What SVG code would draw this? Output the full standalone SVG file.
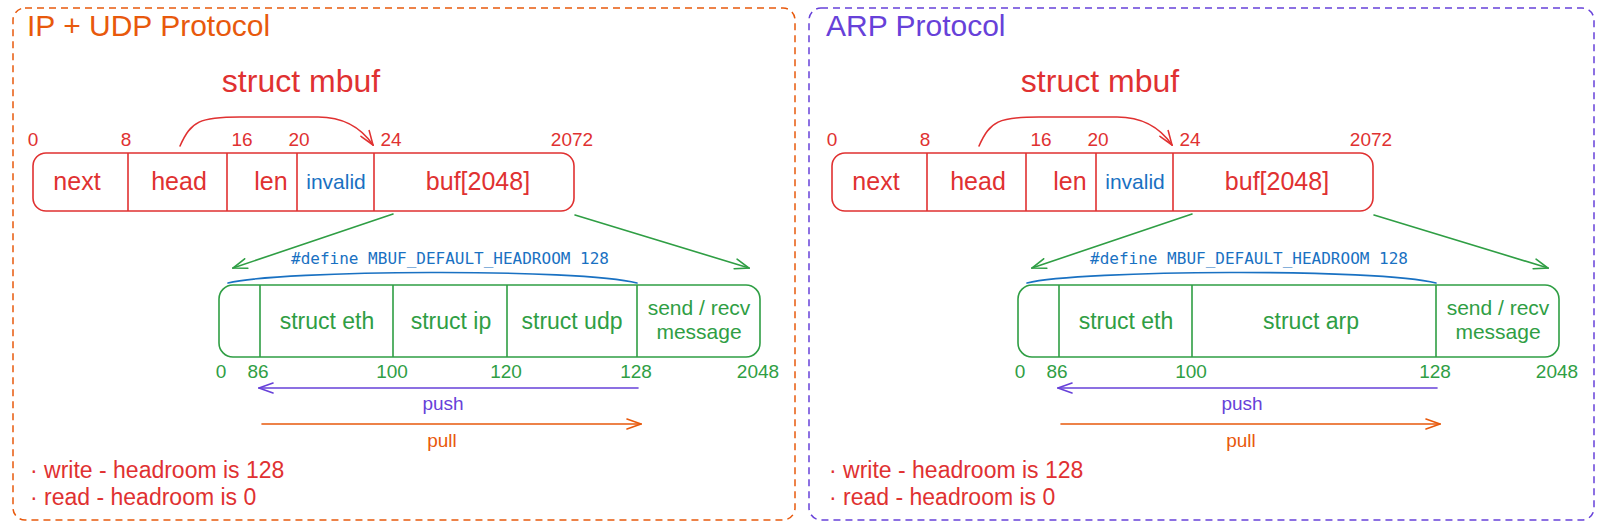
<svg xmlns="http://www.w3.org/2000/svg" width="1604" height="531" viewBox="0 0 1604 531">
<style>
  text { font-family: "Liberation Sans", Arial, sans-serif; }
  .frame { fill: none; stroke-width: 1.5; stroke-dasharray: 7 5; }
  .red { fill: #e03131; }
  .green { fill: #2f9e44; }
  .blue { fill: #1971c2; }
  .orange { fill: #e8590c; }
  .violet { fill: #6741d9; }
  .rbox { fill: none; stroke: #e03131; stroke-width: 1.6; }
  .gbox { fill: none; stroke: #2f9e44; stroke-width: 1.6; }
  .title { font-size: 30px; }
  .struct { font-size: 32px; text-anchor: middle; }
  .num { font-size: 19px; text-anchor: middle; }
  .field { font-size: 25px; text-anchor: middle; }
  .inv { font-size: 21px; text-anchor: middle; }
  .seg { font-size: 23px; text-anchor: middle; }
  .seg2 { font-size: 21px; text-anchor: middle; }
  .def { font-family: "DejaVu Sans Mono", "Liberation Mono", monospace; font-size: 16px; text-anchor: middle; }
  .op { font-size: 19px; text-anchor: middle; }
  .note { font-size: 23px; }
  .conn { fill: none; stroke-width: 1.6; stroke-linecap: round; }
</style>
<defs>
  <marker id="ah-red" viewBox="0 0 16 12" refX="15" refY="6" markerWidth="16" markerHeight="12" markerUnits="userSpaceOnUse" orient="auto">
    <path d="M1,1 L15,6 L1,11" fill="none" stroke="#e03131" stroke-width="1.6" stroke-linecap="round"/>
  </marker>
  <marker id="ah-green" viewBox="0 0 16 12" refX="15" refY="6" markerWidth="16" markerHeight="12" markerUnits="userSpaceOnUse" orient="auto">
    <path d="M1,1 L15,6 L1,11" fill="none" stroke="#2f9e44" stroke-width="1.6" stroke-linecap="round"/>
  </marker>
  <marker id="ah-violet" viewBox="0 0 16 12" refX="15" refY="6" markerWidth="16" markerHeight="12" markerUnits="userSpaceOnUse" orient="auto">
    <path d="M1,1 L15,6 L1,11" fill="none" stroke="#6741d9" stroke-width="1.6" stroke-linecap="round"/>
  </marker>
  <marker id="ah-orange" viewBox="0 0 16 12" refX="15" refY="6" markerWidth="16" markerHeight="12" markerUnits="userSpaceOnUse" orient="auto">
    <path d="M1,1 L15,6 L1,11" fill="none" stroke="#e8590c" stroke-width="1.6" stroke-linecap="round"/>
  </marker>
</defs>
<rect width="1604" height="531" fill="#ffffff"/>

<!-- ===== Left panel: IP + UDP ===== -->
<g id="frame-ipudp">
  <rect class="frame" x="13" y="8" width="782" height="512" rx="12" stroke="#e8590c"/>
  <text class="title orange" x="27" y="36">IP + UDP Protocol</text>
</g>
<g id="mbuf-ipudp">
  <text class="struct red" x="301" y="92">struct mbuf</text>
  <rect class="rbox" x="33" y="153" width="541" height="58" rx="13"/>
  <path class="rbox" d="M128,153 V211 M227,153 V211 M297,153 V211 M374,153 V211"/>
  <text class="num red" x="33" y="146">0</text>
  <text class="num red" x="126" y="146">8</text>
  <text class="num red" x="242" y="146">16</text>
  <text class="num red" x="299" y="146">20</text>
  <text class="num red" x="391" y="146">24</text>
  <text class="num red" x="572" y="146">2072</text>
  <text class="field red" x="77" y="190">next</text>
  <text class="field red" x="179" y="190">head</text>
  <text class="field red" x="271" y="190">len</text>
  <text class="inv blue" x="336" y="189">invalid</text>
  <text class="field red" x="478" y="190">buf[2048]</text>
</g>
<g id="buffer-ipudp">
  <text class="def blue" x="450" y="264">#define MBUF_DEFAULT_HEADROOM 128</text>
  <rect class="gbox" x="219" y="285" width="541" height="72" rx="14"/>
  <path class="gbox" d="M260,285 V357 M393,285 V357 M507,285 V357 M637,285 V357"/>
  <text class="seg green" x="327" y="329">struct eth</text>
  <text class="seg green" x="451" y="329">struct ip</text>
  <text class="seg green" x="572" y="329">struct udp</text>
  <text class="seg2 green" x="699" y="315">send / recv</text>
  <text class="seg2 green" x="699" y="339">message</text>
  <text class="num green" x="221" y="378">0</text>
  <text class="num green" x="258" y="378">86</text>
  <text class="num green" x="392" y="378">100</text>
  <text class="num green" x="506" y="378">120</text>
  <text class="num green" x="636" y="378">128</text>
  <text class="num green" x="758" y="378">2048</text>
  <text class="op violet" x="443" y="410">push</text>
  <text class="op orange" x="442" y="447">pull</text>
</g>
<g id="notes-ipudp">
  <text class="note red" x="30" y="478">· write - headroom is 128</text>
  <text class="note red" x="30" y="505">· read - headroom is 0</text>
</g>

<!-- ===== Right panel: ARP ===== -->
<g id="frame-arp">
  <rect class="frame" x="809" y="8" width="785" height="512" rx="12" stroke="#6741d9"/>
  <text class="title violet" x="826" y="36">ARP Protocol</text>
</g>
<g id="mbuf-arp">
  <text class="struct red" x="1100" y="92">struct mbuf</text>
  <rect class="rbox" x="832" y="153" width="541" height="58" rx="13"/>
  <path class="rbox" d="M927,153 V211 M1026,153 V211 M1096,153 V211 M1173,153 V211"/>
  <text class="num red" x="832" y="146">0</text>
  <text class="num red" x="925" y="146">8</text>
  <text class="num red" x="1041" y="146">16</text>
  <text class="num red" x="1098" y="146">20</text>
  <text class="num red" x="1190" y="146">24</text>
  <text class="num red" x="1371" y="146">2072</text>
  <text class="field red" x="876" y="190">next</text>
  <text class="field red" x="978" y="190">head</text>
  <text class="field red" x="1070" y="190">len</text>
  <text class="inv blue" x="1135" y="189">invalid</text>
  <text class="field red" x="1277" y="190">buf[2048]</text>
</g>
<g id="buffer-arp">
  <text class="def blue" x="1249" y="264">#define MBUF_DEFAULT_HEADROOM 128</text>
  <rect class="gbox" x="1018" y="285" width="541" height="72" rx="14"/>
  <path class="gbox" d="M1059,285 V357 M1192,285 V357 M1436,285 V357"/>
  <text class="seg green" x="1126" y="329">struct eth</text>
  <text class="seg green" x="1311" y="329">struct arp</text>
  <text class="seg2 green" x="1498" y="315">send / recv</text>
  <text class="seg2 green" x="1498" y="339">message</text>
  <text class="num green" x="1020" y="378">0</text>
  <text class="num green" x="1057" y="378">86</text>
  <text class="num green" x="1191" y="378">100</text>
  <text class="num green" x="1435" y="378">128</text>
  <text class="num green" x="1557" y="378">2048</text>
  <text class="op violet" x="1242" y="410">push</text>
  <text class="op orange" x="1241" y="447">pull</text>
</g>
<g id="notes-arp">
  <text class="note red" x="829" y="478">· write - headroom is 128</text>
  <text class="note red" x="829" y="505">· read - headroom is 0</text>
</g>

<!-- ===== Connectors ===== -->
<g id="connectors">
  <path class="conn" stroke="#e03131" marker-end="url(#ah-red)" d="M180,146 C191,121 200,117 240,117 L318,117 C345,117 362,129 373,145"/>
  <line class="conn" stroke="#2f9e44" marker-end="url(#ah-green)" x1="393" y1="214" x2="233" y2="268"/>
  <line class="conn" stroke="#2f9e44" marker-end="url(#ah-green)" x1="575" y1="215" x2="749" y2="268"/>
  <path class="conn" stroke="#1971c2" d="M228,283 C280,270 580,268 637,283"/>
  <line class="conn" stroke="#6741d9" marker-end="url(#ah-violet)" x1="638" y1="388" x2="259" y2="388"/>
  <line class="conn" stroke="#e8590c" marker-end="url(#ah-orange)" x1="262" y1="424" x2="641" y2="424"/>

  <path class="conn" stroke="#e03131" marker-end="url(#ah-red)" d="M979,146 C990,121 999,117 1039,117 L1117,117 C1144,117 1161,129 1172,145"/>
  <line class="conn" stroke="#2f9e44" marker-end="url(#ah-green)" x1="1192" y1="214" x2="1032" y2="268"/>
  <line class="conn" stroke="#2f9e44" marker-end="url(#ah-green)" x1="1374" y1="215" x2="1548" y2="268"/>
  <path class="conn" stroke="#1971c2" d="M1027,283 C1079,270 1379,268 1436,283"/>
  <line class="conn" stroke="#6741d9" marker-end="url(#ah-violet)" x1="1437" y1="388" x2="1058" y2="388"/>
  <line class="conn" stroke="#e8590c" marker-end="url(#ah-orange)" x1="1061" y1="424" x2="1440" y2="424"/>
</g>
</svg>
